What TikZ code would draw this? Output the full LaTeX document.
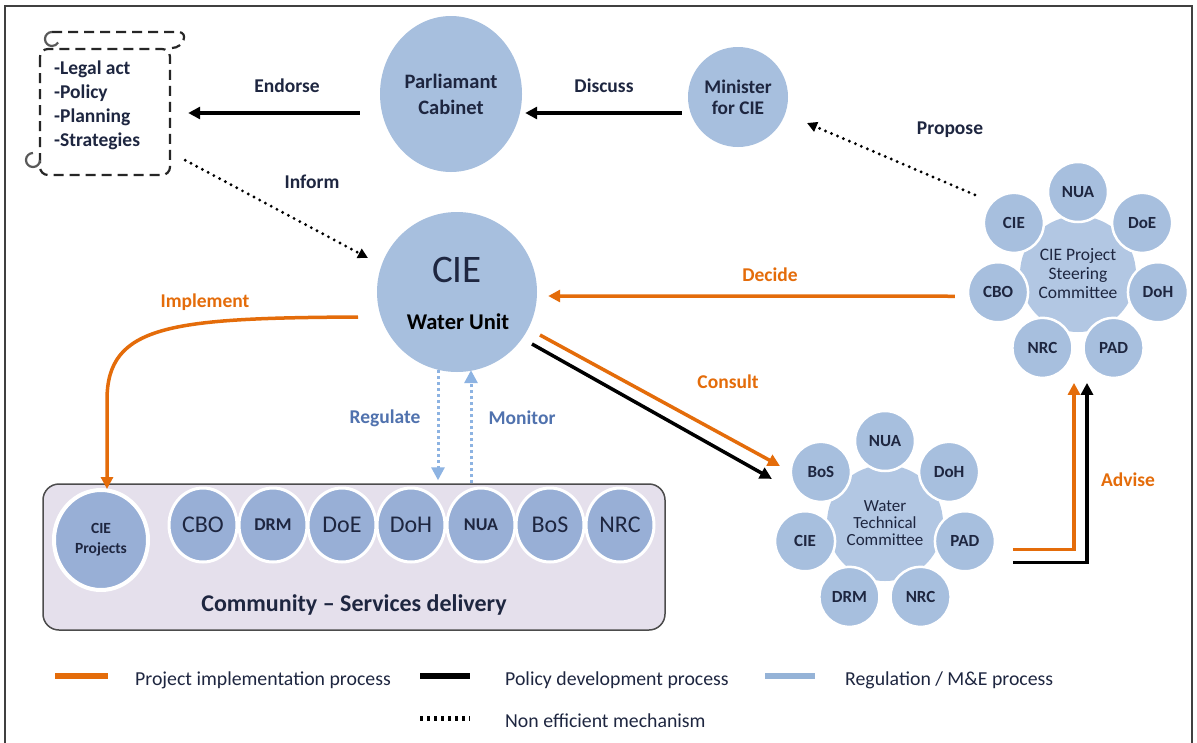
\documentclass[tikz,border=0pt]{standalone}
\usepackage{fontspec}
\setmainfont{Carlito}
\usetikzlibrary{arrows.meta,shapes.geometric,calc}
\definecolor{cblue}{HTML}{A7BFDE}
\definecolor{gblue}{HTML}{B2C7E3}
\definecolor{dblue}{HTML}{98AFD6}
\definecolor{lav}{HTML}{E5E0EC}
\definecolor{orng}{HTML}{E46C0A}
\definecolor{rblue}{HTML}{8DB3E2}
\definecolor{legblue}{HTML}{95B3D7}
\definecolor{lblue}{HTML}{5072AE}
\definecolor{ink}{HTML}{1E2640}
\newcommand\cbigfont{\fontsize{24}{26}\selectfont}
\newcommand\csmallfont{\fontsize{18}{20}\selectfont\bfseries}
\begin{document}
\begin{tikzpicture}[x=1pt,y=-1pt,
  lbl/.style={font=\fontsize{19.5}{22}\selectfont\bfseries, text=ink, inner sep=0pt},
  olbl/.style={lbl, text=orng},
  blbl/.style={lbl, text=lblue},
  bigc/.style={ellipse, fill=cblue, inner sep=0pt, align=center, text=ink},
  gear/.style={circle, fill=gblue, minimum size=116pt, inner sep=0pt, align=center, font=\fontsize{17.5}{19}\selectfont, text=ink},
  outc/.style={circle, fill=cblue, draw=white, line width=2.5pt, minimum size=60pt, inner sep=0pt, font=\fontsize{17}{19}\selectfont\bfseries, text=ink},
  commc/.style={ellipse, fill=dblue, draw=white, line width=3pt, minimum width=68pt, minimum height=74pt, inner sep=0pt, text=ink},
  blk/.style={line width=3.5pt, draw=black, -{Triangle[length=12pt,width=12pt]}},
  org/.style={line width=3.5pt, draw=orng, -{Triangle[length=12pt,width=12pt]}},
  dotarr/.style={line width=3.2pt, draw=black, dash pattern=on 0pt off 6.5pt, line cap=round, -{Triangle[length=10pt,width=10pt]}},
  regarr/.style={line width=3pt, draw=rblue, dash pattern=on 3pt off 3pt, -{Triangle[length=13pt,width=13pt]}},
  scrl/.style={line width=2.2pt, draw=black!85, dash pattern=on 10pt off 6pt},
  curl/.style={line width=2.2pt, draw=black!65},
  legtxt/.style={font=\fontsize{19.8}{22}\selectfont, text=ink, anchor=west, inner sep=0pt}
]
\useasboundingbox (0,0) rectangle (1197,742);
\fill[white] (0,0) rectangle (1197,742);
% outer frame
\draw[line width=2pt, black!75] (5,760) -- (5,6) -- (1192,6) -- (1192,760);

% scroll
\node[minimum width=130pt, minimum height=127pt, inner sep=0pt] (scroll) at (105,111.5) {};
\draw[scrl, rounded corners=8pt] (40,49) rectangle (170,175);
\draw[scrl] (52,32) -- (178,32) to[out=0,in=0,looseness=1.7] (172,48);
\draw[curl] (52,32) arc[start angle=90,end angle=330,radius=7pt];
\draw[curl] (40,160) arc[start angle=0,end angle=-270,radius=7pt];
\node[font=\fontsize{19.5}{24}\selectfont\bfseries, text=ink, align=left, anchor=west, inner sep=0pt] (scrollT) at (54,105) {-Legal act\\-Policy\\-Planning\\-Strategies};

% top row
\node[bigc, minimum width=142pt, minimum height=156pt, font=\fontsize{20.5}{26}\selectfont\bfseries] (parl) at (451,94) {Parliamant\\Cabinet};
\node[bigc, minimum width=100pt, minimum height=100pt, font=\fontsize{19.3}{21}\selectfont\bfseries] (min) at (738,97) {Minister\\for CIE};

% CIE water unit
\node[ellipse, fill=cblue, minimum size=160pt, inner sep=0pt] (cie) at (457,292) {};
\node[font=\fontsize{39}{39}\selectfont, text=ink, inner sep=0pt] (cieT) at (457,270) {CIE};
\node[font=\fontsize{22.5}{24}\selectfont\bfseries, text=black, inner sep=0pt] (cieW) at (458,322) {Water Unit};

% steering committee
\node[gear] (sc) at (1078,274) {CIE Project\\Steering\\Committee};
\foreach \n/\a in {NUA/90, DoE/38.57, DoH/-12.86, PAD/-64.29, NRC/-115.71, CBO/-167.14, CIE/141.43}
  \node[outc] (s\n) at ($(sc.center)+(\a:82pt)$) {\n};

% water technical committee
\node[gear, font=\fontsize{17}{17}\selectfont] (wc) at (885,523) {Water\\Technical\\Committee};
\foreach \n/\a in {NUA/90, DoH/38.57, PAD/-12.86, NRC/-64.29, DRM/-115.71, CIE/-167.14, BoS/141.43}
  \node[outc] (w\n) at ($(wc.center)+(\a:82pt)$) {\n};

% community box
\node[draw=black!70, fill=lav, rounded corners=16pt, line width=1.5pt, minimum width=622pt, minimum height=146pt, inner sep=0pt] (comm) at (354,557) {};
\node[commc, line width=4pt, minimum width=94pt, minimum height=100pt, align=center, font=\fontsize{15.5}{20}\selectfont\bfseries] (cp) at (101,540) {CIE\\Projects};
\foreach \n/\x/\ff in {CBO/203/\cbigfont, DRM/273/\csmallfont, DoE/342/\cbigfont, DoH/411/\cbigfont, NUA/481/\csmallfont, BoS/550/\cbigfont, NRC/620/\cbigfont}
  \node[commc, font=\ff] (c\n) at (\x,525) {\n};
\node[font=\fontsize{24}{26}\selectfont\bfseries, text=ink, inner sep=0pt] (commT) at (354,605) {Community – Services delivery};

% connectors
\draw[blk] ($(parl.west)+(-20,19)$) -- ($(scroll.east)+(18,1.5)$);
\draw[blk] ($(min.west)+(-6,16)$) -- ($(parl.east)+(3,19)$);
\draw[dotarr] ($(sCIE.center)+(-39,-28)$) -- ($(min.center)+(69,26)$);
\draw[dotarr] ($(scroll.south east)+(15,-15)$) -- ($(cie.center)+(-89,-34)$);
\draw[org] ($(sCBO.west)+(-12,4)$) -- ($(cie.east)+(11,4)$);
\coordinate (implBend) at (107,400);
\draw[org] ($(cie.center)+(-99,25)$) .. controls (170,318) and (107,325) .. (implBend) -- ($(cp.north)+(6,1)$);
\draw[org] ($(cie.center)+(83,43)$) -- ($(wBoS.center)+(-41,-6)$);
\draw[blk] ($(cie.center)+(75,52)$) -- ($(wBoS.center)+(-49,7)$);
\draw[regarr] ($(cie.south)+(-19,-2)$) -- ($(comm.north)+(84,-3)$);
\draw[regarr] ($(comm.north)+(117,0)$) -- ($(cie.south)+(14,-2)$);
\coordinate (advTop) at ($(sNRC.center)!0.5!(sPAD.center)$);
\draw[org] ($(wPAD.center)+(48,8)$) -| ($(advTop)+(-4,35)$);
\draw[blk] ($(wPAD.center)+(48,21)$) -| ($(advTop)+(9,35)$);

% labels
\node[lbl] (lEndorse) at (287,86) {Endorse};
\node[lbl] (lDiscuss) at (604,86) {Discuss};
\node[lbl] (lPropose) at (950,130) {Propose};
\node[lbl] (lInform) at (312,182) {Inform};
\node[olbl] (lDecide) at (770,275) {Decide};
\node[olbl] (lImpl) at (205,302) {Implement};
\node[olbl] (lConsult) at (728,382) {Consult};
\node[olbl] (lAdvise) at (1128,480) {Advise};
\node[blbl] (lReg) at (385,418) {Regulate};
\node[blbl] (lMon) at (522,418) {Monitor};

% legend
\draw[orng, line width=6pt] (55,676) -- (108,676);
\node[legtxt] (lg1) at (135,680) {Project implementation process};
\draw[black, line width=6pt] (420,676) -- (470,676);
\node[legtxt] (lg2) at (505,680) {Policy development process};
\draw[legblue, line width=6pt] (765,676) -- (815,676);
\node[legtxt] (lg3) at (845,680) {Regulation / M\&E process};
\draw[black, line width=5pt, dash pattern=on 3pt off 4pt] (420,718) -- (470,718);
\node[legtxt] (lg4) at (505,721) {Non efficient mechanism};
\end{tikzpicture}
\end{document}
